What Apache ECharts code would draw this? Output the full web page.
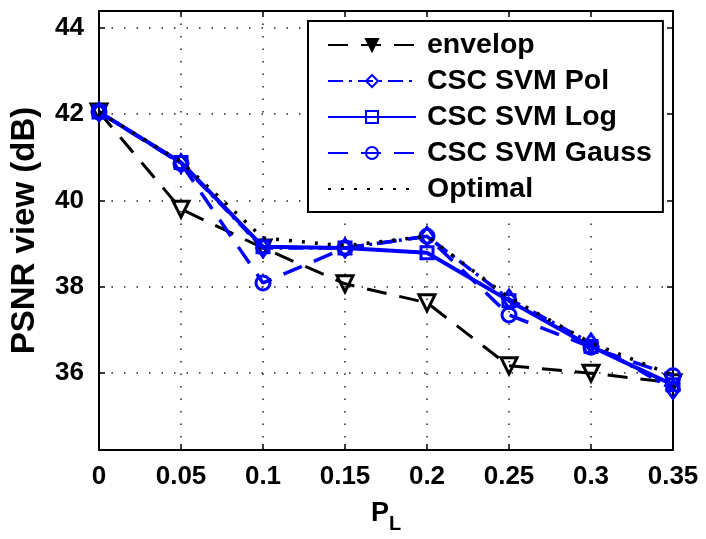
<!DOCTYPE html>
<html>
<head>
<meta charset="utf-8">
<script src="https://cdn.jsdelivr.net/npm/echarts@6/dist/echarts.min.js"></script>
<style>
html,body{margin:0;padding:0;background:#fff;}
#chart{width:706px;height:539px;}
</style>
</head>
<body>
<div id="chart"></div>
<script>
var xValues = [0, 0.05, 0.1, 0.15, 0.2, 0.25, 0.3, 0.35];
var envelop = [42.05, 39.8, 38.9, 38.07, 37.63, 36.17, 36.0, 35.78];
var cscPol = [42.05, 40.86, 38.9, 38.9, 39.17, 37.72, 36.7, 35.62];
var cscLog = [42.05, 40.88, 38.93, 38.9, 38.79, 37.68, 36.62, 35.73];
var cscGauss = [42.05, 40.86, 38.09, 38.9, 39.17, 37.35, 36.6, 35.94];
var optimal = [42.05, 40.9, 39.13, 38.95, 39.17, 37.75, 36.7, 35.95];
var yTicks = [36, 38, 40, 42, 44];
var seriesNames = ['envelop', 'CSC SVM Pol', 'CSC SVM Log', 'CSC SVM Gauss', 'Optimal'];

function pairs(arr) { return xValues.map(function (x, i) { return [x, arr[i]]; }); }

var FONT = '"Liberation Sans", Arial, Helvetica, sans-serif';
var BLUE = '#0000ff';
var gridDash = [1.5, 11];

var chart = echarts.init(document.getElementById('chart'), null, {renderer: 'canvas'});

var baseX = {
  type: 'value', min: 0, max: 0.35, interval: 0.05,
  axisLine: {show: true, onZero: false, lineStyle: {color: '#000', width: 2}},
  axisTick: {show: true, inside: true, length: 6, lineStyle: {color: '#000', width: 1.5}},
  splitLine: {show: false}
};
var baseY = {
  type: 'value', min: 34.22, max: 44.39,
  axisLine: {show: true, onZero: false, lineStyle: {color: '#000', width: 2}},
  axisTick: {show: true, inside: true, length: 6, customValues: yTicks, lineStyle: {color: '#000', width: 1.5}},
  splitLine: {show: false}
};

var option = {
  backgroundColor: '#fff',
  animation: false,
  grid: {left: 95, right: 33, top: 11, bottom: 82, containLabel: false},
  xAxis: [
    Object.assign({}, baseX, {
      position: 'bottom',
      name: 'P{sub|L}',
      nameLocation: 'middle',
      nameGap: 44,
      nameTextStyle: {
        fontFamily: FONT, fontSize: 27, fontWeight: 'bold', color: '#000',
        rich: {sub: {fontFamily: FONT, fontSize: 20, fontWeight: 'bold', color: '#000', verticalAlign: 'bottom', padding: [20, 0, 0, 0]}}
      },
      axisLabel: {show: true, margin: 14, fontFamily: FONT, fontSize: 26, fontWeight: 'bold', color: '#000'},
      splitLine: {show: true, lineStyle: {color: '#222', width: 1.5, type: gridDash}}
    }),
    Object.assign({}, baseX, {position: 'top', axisLabel: {show: false}})
  ],
  yAxis: [
    Object.assign({}, baseY, {
      position: 'left',
      name: 'PSNR view (dB)',
      nameLocation: 'middle',
      nameRotate: 90,
      nameGap: 58,
      nameTextStyle: {fontFamily: FONT, fontSize: 33, fontWeight: 'bold', color: '#000'},
      axisLabel: {show: true, margin: 15, customValues: yTicks, fontFamily: FONT, fontSize: 26, fontWeight: 'bold', color: '#000'},
      splitLine: {show: true, lineStyle: {color: '#222', width: 1.5, type: gridDash}}
    }),
    Object.assign({}, baseY, {position: 'right', axisLabel: {show: false}})
  ],
  legend: {
    orient: 'vertical',
    left: 308, top: 21,
    padding: [9, 11, 8, 19],
    itemGap: 6,
    itemWidth: 88,
    itemHeight: 15,
    backgroundColor: '#fff',
    borderColor: '#000',
    borderWidth: 2,
    borderRadius: 0,
    data: [
      {name: seriesNames[0], itemStyle: {color: '#000'}},
      seriesNames[1], seriesNames[2], seriesNames[3], seriesNames[4]
    ],
    textStyle: {fontFamily: FONT, fontSize: 28.5, fontWeight: 'bold', color: '#000', lineHeight: 30, padding: [0, 0, 0, 6]}
  },
  series: [
    {
      name: seriesNames[0], type: 'line', data: pairs(envelop),
      symbol: 'triangle', symbolRotate: 180, symbolSize: 16,
      lineStyle: {color: '#000', width: 3, type: [20, 13]},
      itemStyle: {color: 'rgba(255,255,255,0)', borderColor: '#000', borderWidth: 3},
      z: 2
    },
    {
      name: seriesNames[1], type: 'line', data: pairs(cscPol),
      symbol: 'diamond', symbolSize: [13, 18],
      lineStyle: {color: BLUE, width: 3.5, type: [15, 6, 3, 6]},
      itemStyle: {color: 'rgba(255,255,255,0)', borderColor: BLUE, borderWidth: 3},
      z: 3
    },
    {
      name: seriesNames[2], type: 'line', data: pairs(cscLog),
      symbol: 'rect', symbolSize: 12,
      lineStyle: {color: BLUE, width: 4, type: 'solid'},
      itemStyle: {color: 'rgba(255,255,255,0)', borderColor: BLUE, borderWidth: 3},
      z: 4
    },
    {
      name: seriesNames[3], type: 'line', data: pairs(cscGauss),
      symbol: 'circle', symbolSize: 14,
      lineStyle: {color: BLUE, width: 3.5, type: [20, 13]},
      itemStyle: {color: 'rgba(255,255,255,0)', borderColor: BLUE, borderWidth: 3},
      z: 5
    },
    {
      name: seriesNames[4], type: 'line', data: pairs(optimal),
      symbol: 'none', showSymbol: false,
      lineStyle: {color: '#000', width: 3.5, type: [3, 10]},
      itemStyle: {color: 'rgba(0,0,0,0)'},
      z: 6
    }
  ]
};
chart.setOption(option);
</script>
</body>
</html>
